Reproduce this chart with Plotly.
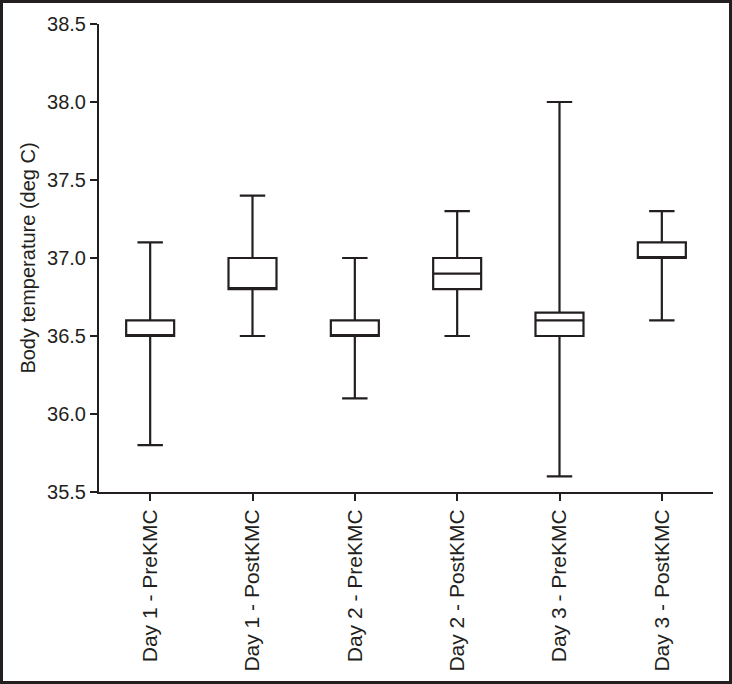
import plotly.graph_objects as go

categories = ["Day 1 - PreKMC", "Day 1 - PostKMC", "Day 2 - PreKMC",
              "Day 2 - PostKMC", "Day 3 - PreKMC", "Day 3 - PostKMC"]
lower = [35.8, 36.5, 36.1, 36.5, 35.6, 36.6]
q1 = [36.5, 36.8, 36.5, 36.8, 36.5, 37.0]
median = [36.5, 36.8, 36.5, 36.9, 36.6, 37.0]
q3 = [36.6, 37.0, 36.6, 37.0, 36.65, 37.1]
upper = [37.1, 37.4, 37.0, 37.3, 38.0, 37.3]
y_ticks = [35.5, 36.0, 36.5, 37.0, 37.5, 38.0, 38.5]

INK = "#231f20"
W, H = 732, 684
L, R, T, B = 99, 19, 24, 192
pw, ph = W - L - R, H - T - B

fig = go.Figure(go.Box(
    x=categories, q1=q1, median=median, q3=q3,
    lowerfence=lower, upperfence=upper,
    fillcolor="white", line=dict(color=INK, width=2.2),
    whiskerwidth=0.53, boxpoints=False, showlegend=False,
    hoverinfo="skip",
))

fig.update_layout(
    width=W, height=H,
    margin=dict(l=L, r=R, t=T, b=B, autoexpand=False),
    paper_bgcolor="white", plot_bgcolor="white",
    boxgap=0.33,
    font=dict(family="Liberation Sans, Arial, sans-serif", color=INK, size=20),
    showlegend=False,
    shapes=[dict(type="rect", xref="paper", yref="paper",
                 x0=(1.5 - L) / pw, x1=(W - 1.5 - L) / pw,
                 y0=-(H - 1.5 - T - ph) / ph, y1=1 + (T - 1.5) / ph,
                 line=dict(color=INK, width=3), layer="above")],
)

fig.update_xaxes(
    type="category", range=[-0.5, 5.5],
    showline=True, linecolor=INK, linewidth=2,
    ticks="outside", ticklen=7, tickwidth=2, tickcolor=INK,
    tickangle=-90, tickfont=dict(size=21),
    showgrid=False, zeroline=False, automargin=False,
)
fig.update_yaxes(
    range=[35.5, 38.5], tickvals=y_ticks,
    ticktext=[f"{v:.1f}" for v in y_ticks],
    showline=True, linecolor=INK, linewidth=2,
    ticks="outside", ticklen=7, tickwidth=2, tickcolor=INK,
    tickfont=dict(size=20),
    title=dict(text="Body temperature (deg C)", font=dict(size=20), standoff=6),
    showgrid=False, zeroline=False, automargin=False,
)

fig.write_html("out.html", config={"displayModeBar": False},
               post_script="document.body.style.margin='0';document.body.style.overflow='hidden';")
